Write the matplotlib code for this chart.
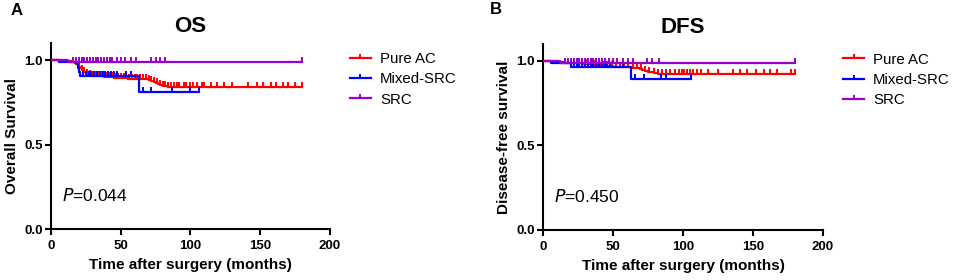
import numpy as np
import matplotlib
matplotlib.use("Agg")
import matplotlib.pyplot as plt
from matplotlib.lines import Line2D
from matplotlib.path import Path

plt.rcParams["font.family"] = ["Liberation Sans", "DejaVu Sans"]

group_names = ["Pure AC", "Mixed-SRC", "SRC"]
group_colors = ["#ff0000", "#0000ff", "#9900cc"]

# ---- OS: Kaplan-Meier steps (event time, survival after event), last follow-up, censor times
os_ac_t = [0, 8, 14, 17, 18, 19, 20, 21, 22, 23, 24, 25, 26, 28, 30, 33, 38, 45, 55, 66, 70, 72, 74, 75, 76, 77, 78, 80, 82, 84]
os_ac_s = [1.0, 0.995, 0.99, 0.985, 0.975, 0.965, 0.958, 0.95, 0.943, 0.937, 0.93, 0.925, 0.92, 0.914, 0.908, 0.903, 0.898, 0.893, 0.89, 0.887, 0.88, 0.875, 0.87, 0.866, 0.862, 0.857, 0.853, 0.848, 0.844, 0.841]
os_ac_end = 180
os_ac_cens = [20, 22, 24, 26, 28, 30, 32, 34, 36, 38, 40, 42, 44, 46, 48, 50, 52, 54, 56, 58, 60, 62, 64, 66, 68, 70, 72, 74, 76, 78, 80, 82, 84, 86, 88, 90, 92, 95, 97, 100, 102, 105, 108, 110, 115, 119, 124, 130, 141, 148, 152, 158, 161, 166, 170, 175, 180]

os_mix_t = [0, 6, 18, 19, 20, 21, 63]
os_mix_s = [1.0, 0.99, 0.98, 0.955, 0.93, 0.905, 0.811]
os_mix_end = 106
os_mix_cens = [23, 25, 27, 29, 31, 33, 35, 37, 39, 41, 43, 45, 47, 54, 57, 66, 72, 87, 100, 106]

os_src_t = [0, 12]
os_src_s = [1.0, 0.99]
os_src_end = 180
os_src_cens = [16, 18, 20, 22, 24, 26, 28, 30, 32, 34, 36, 38, 40, 42, 44, 47, 50, 53, 57, 61, 72, 75, 78, 82, 180]

# ---- DFS
dfs_ac_t = [0, 10, 16, 22, 28, 35, 42, 50, 63, 67, 69, 71, 73, 75, 77, 79, 82, 86, 92]
dfs_ac_s = [1.0, 0.995, 0.99, 0.985, 0.98, 0.975, 0.97, 0.965, 0.96, 0.955, 0.95, 0.945, 0.94, 0.936, 0.932, 0.928, 0.925, 0.922, 0.92]
dfs_ac_end = 180
dfs_ac_cens = [22, 25, 28, 31, 34, 37, 40, 43, 46, 49, 52, 55, 58, 61, 64, 67, 70, 73, 76, 79, 82, 85, 88, 91, 94, 97, 99, 101, 103, 105, 107, 110, 113, 118, 125, 136, 141, 146, 152, 158, 162, 167, 177, 180]

dfs_mix_t = [0, 6, 20, 63]
dfs_mix_s = [1.0, 0.985, 0.965, 0.895]
dfs_mix_end = 106
dfs_mix_cens = [16, 22, 24, 26, 28, 30, 32, 34, 36, 38, 40, 42, 44, 46, 48, 57, 66, 72, 84, 88, 106]

dfs_src_t = [0, 12]
dfs_src_s = [1.0, 0.99]
dfs_src_end = 180
dfs_src_cens = [16, 18, 20, 22, 24, 26, 28, 30, 32, 34, 36, 38, 40, 42, 44, 47, 50, 53, 57, 61, 64, 74, 78, 83, 180]

panels = [
    dict(letter="A", title="OS", ylabel="Overall Survival", ptext="0.044",
         curves=[(os_ac_t, os_ac_s, os_ac_end, os_ac_cens),
                 (os_mix_t, os_mix_s, os_mix_end, os_mix_cens),
                 (os_src_t, os_src_s, os_src_end, os_src_cens)]),
    dict(letter="B", title="DFS", ylabel="Disease-free survival", ptext="0.450",
         curves=[(dfs_ac_t, dfs_ac_s, dfs_ac_end, dfs_ac_cens),
                 (dfs_mix_t, dfs_mix_s, dfs_mix_end, dfs_mix_cens),
                 (dfs_src_t, dfs_src_s, dfs_src_end, dfs_src_cens)]),
]

fig = plt.figure(figsize=(9.57, 2.8), dpi=100)
axes_pos = [[0.0533, 0.182, 0.2915, 0.664], [0.5674, 0.179, 0.2926, 0.664]]
letter_pos = [(0.011, 0.962), (0.512, 0.965)]

# upward censor tick (GraphPad style)
up_tick = Path([(0, 0), (0, 1)], [Path.MOVETO, Path.LINETO])


def km_curve(ax, t, s, end, cens, color):
    xs = list(t) + [end]
    ys = list(s) + [s[-1]]
    ax.step(xs, ys, where="post", color=color, lw=1.6, zorder=3)
    idx = np.searchsorted(np.asarray(t), np.asarray(cens), side="right") - 1
    cy = np.asarray(s)[idx]
    ax.plot(cens, cy, ls="none", marker=up_tick, ms=6.5, mew=1.4, color=color, zorder=3)


for i, p in enumerate(panels):
    ax = fig.add_axes(axes_pos[i])
    for (t, s, end, cens), col in zip(p["curves"], group_colors):
        km_curve(ax, t, s, end, cens, col)

    ax.set_xlim(0, 200)
    ax.set_ylim(0, 1.1)
    ax.set_xticks([0, 50, 100, 150, 200])
    ax.set_yticks([0.0, 0.5, 1.0])
    ax.set_yticklabels(["0.0", "0.5", "1.0"])
    for side in ["top", "right"]:
        ax.spines[side].set_visible(False)
    for side in ["left", "bottom"]:
        ax.spines[side].set_linewidth(1.5)
    ax.tick_params(width=1.5, length=4, labelsize=9.5)
    ax.tick_params(axis="x", pad=4)
    ax.tick_params(axis="y", pad=2)
    for lab in ax.get_xticklabels() + ax.get_yticklabels():
        lab.set_fontweight("bold")

    ax.set_xlabel("Time after surgery (months)", fontsize=11, fontweight="bold", labelpad=4)
    ax.set_ylabel(p["ylabel"], fontsize=11, fontweight="bold", labelpad=4)
    ax.set_title(p["title"], fontsize=16, fontweight="bold", pad=8)
    ax.text(8, 0.2, r"$\it{P}$=" + p["ptext"], fontsize=12.5, va="center")

    handles = [Line2D([], [], color=c, lw=1.6, marker=up_tick, ms=6, mew=1.4) for c in group_colors]
    ax.legend(handles, group_names, loc="upper left", bbox_to_anchor=(1.05, 0.985),
              frameon=False, fontsize=10.8, handlelength=1.4, handletextpad=0.6,
              labelspacing=0.42, borderaxespad=0)

    fig.text(letter_pos[i][0], letter_pos[i][1], p["letter"], fontsize=12,
             fontweight="bold", va="center")

fig.savefig("out.png", dpi=100)
